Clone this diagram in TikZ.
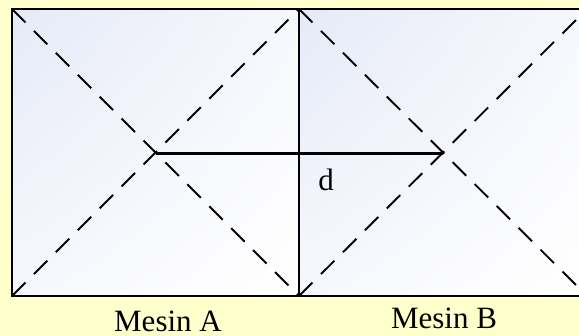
\documentclass[tikz,border=0pt]{standalone}
\usepackage{fontspec}
\setmainfont{Liberation Serif}
\usetikzlibrary{shadings}
\definecolor{bgyellow}{RGB}{255,255,204}
\definecolor{boxblue}{RGB}{229,234,247}
\definecolor{boxmid}{RGB}{247,248,253}
\begin{document}
\begin{tikzpicture}[x=1pt,y=-1pt,line width=1.9pt,
  boxfill/.style={upper left=boxblue,upper right=boxmid,lower left=boxmid,lower right=white},
  diag/.style={dash pattern=on 19pt off 12pt},
  lbl/.style={anchor=base,inner sep=0pt,font=\fontsize{31}{33}\selectfont}]
\useasboundingbox (0,0) rectangle (579,336);
\fill[bgyellow] (0,0) rectangle (579,336);
\coordinate (A1) at (12,9);
\coordinate (A2) at (299,9);
\coordinate (A3) at (299,296);
\coordinate (A4) at (12,296);
\coordinate (B2) at (587,9);
\coordinate (B3) at (587,296);
\coordinate (cA) at (155.5,153.5);
\coordinate (cB) at (443,153.5);
\begin{scope}
\clip (0,0) rectangle (579,336);
\shade[boxfill] (A1) rectangle (A3);
\shade[boxfill] (A2) rectangle (B3);
\draw[diag] (A1) -- (A3);
\draw[diag] (A4) -- (A2);
\draw[diag] (A2) -- (B3);
\draw[diag] (A3) -- (B2);
\draw[line width=2.1pt] (cA) -- (cB);
\draw (A1) rectangle (A3);
\draw (A2) rectangle (B3);
\end{scope}
\node[lbl] (d) at (326,191) {d};
\node[lbl] (ma) at (168,331.5) {Mesin A};
\node[lbl] (mb) at (444,329) {Mesin B};
\end{tikzpicture}
\end{document}
